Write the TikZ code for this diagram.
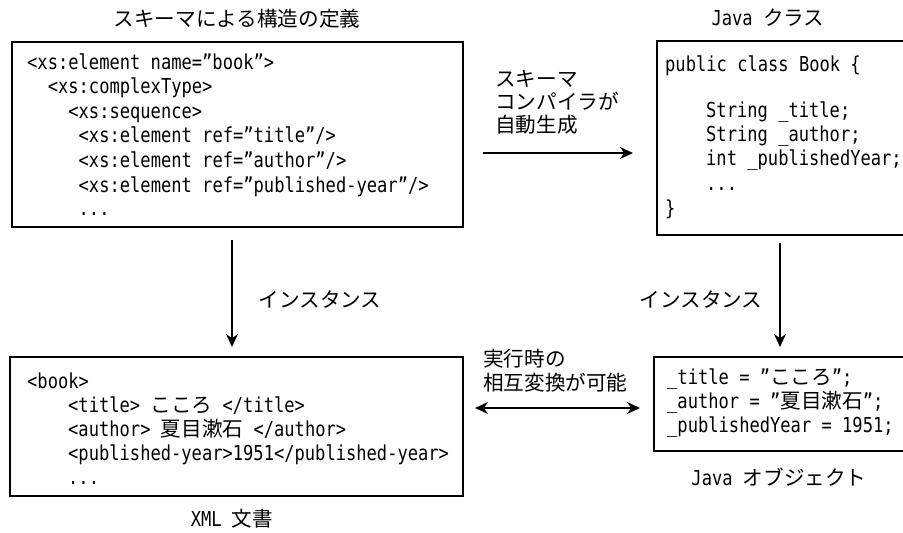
\documentclass[tikz,border=0pt]{standalone}
\usepackage{fontspec}
\setmainfont{DejaVu Sans Mono}[FakeStretch=0.83]
\newfontfamily\jpf{Noto Sans CJK JP}
\newcommand{\J}[1]{{\jpf #1}}
\usetikzlibrary{arrows.meta}
\begin{document}
\begin{tikzpicture}[x=1pt,y=-1pt,
  box/.style={draw, line width=1.6pt, inner sep=0pt, outer sep=0pt, anchor=north west},
  code/.style={anchor=base west, inner sep=0pt, font=\fontsize{20.6}{24.5}\selectfont},
  lbl/.style={inner sep=0pt, font=\fontsize{20.6}{24.5}\selectfont},
  lblw/.style={anchor=base west, inner sep=0pt, font=\fontsize{20.6}{24.5}\selectfont},
  arr/.style={line width=1.6pt, -{Stealth[length=13pt,width=12pt]}},
  darr/.style={line width=1.6pt, {Stealth[length=13pt,width=12pt]}-{Stealth[length=13pt,width=12pt]}}]
\useasboundingbox (0,0) rectangle (903,533);
\clip (0,0) rectangle (903,533);
\fill[white] (0,0) rectangle (903,533);

% boxes
\node[box, minimum width=451pt, minimum height=185pt] (b1) at (12,42) {};
\node[box, minimum width=260pt, minimum height=194pt] (b2) at (657,41) {};
\node[box, minimum width=453pt, minimum height=139pt] (b3) at (10,357) {};
\node[box, minimum width=260pt, minimum height=94pt] (b4) at (654,357) {};

% titles
\node[lbl] (t1) at (237,19) {\J{スキーマによる構造の定義}};
\node[lbl] (t2) at (768,18) {Java \J{クラス}};
\node[lbl] (t3) at (232,519) {XML \J{文書}};
\node[lbl] (t4) at (779,477) {Java \J{オブジェクト}};

% schema code
\node[code] (c11) at (27,69) {<xs:element name=”book”>};
\node[code] (c12) at (47.6,93.6) {<xs:complexType>};
\node[code] (c13) at (68.2,118.2) {<xs:sequence>};
\node[code] (c14) at (78.5,142.8) {<xs:element ref=”title”/>};
\node[code] (c15) at (78.5,167.4) {<xs:element ref=”author”/>};
\node[code] (c16) at (78.5,192) {<xs:element ref=”published-year”/>};
\node[code] (c17) at (78.5,215) {...};

% java class code
\node[code] (c21) at (665,71) {public class Book \{};
\node[code] (c22) at (706,117) {String \_title;};
\node[code] (c23) at (706,141) {String \_author;};
\node[code] (c24) at (706,165) {int \_publishedYear;};
\node[code] (c25) at (706,190) {...};
\node[code] (c26) at (665,215) {\}};

% xml document
\node[code] (c31) at (27,388.5) {<book>};
\node[code] (c32) at (68,412.5) {<title> \J{こころ} </title>};
\node[code] (c33) at (68,436.5) {<author> \J{夏目漱石} </author>};
\node[code] (c34) at (68,460.5) {<published-year>1951</published-year>};
\node[code] (c35) at (68,484.5) {...};

% java object
\node[code] (c41) at (667,384) {\_title = ”\J{こころ}”;};
\node[code] (c42) at (667,408) {\_author = ”\J{夏目漱石}”;};
\node[code] (c43) at (667,432) {\_publishedYear = 1951;};

% arrow labels
\node[lblw] (l1a) at (495,86) {\J{スキーマ}};
\node[lblw] (l1b) at (495,109) {\J{コンパイラが}};
\node[lblw] (l1c) at (495,132) {\J{自動生成}};
\node[lblw] (l2a) at (483,366) {\J{実行時の}};
\node[lblw] (l2b) at (483,390) {\J{相互変換が可能}};
\node[lbl] (l3) at (320,300) {\J{インスタンス}};
\node[lbl] (l4) at (701,300) {\J{インスタンス}};

% connectors
\coordinate (xl) at (232,0);
\coordinate (xr) at (780,0);
\coordinate (yh) at (0,153);
\coordinate (yd) at (0,408);
\draw[arr, shorten <=20pt, shorten >=24pt] (b1.east |- yh) -- (b2.west |- yh);
\draw[arr, shorten <=13pt, shorten >=10pt] (b1.south -| xl) -- (b3.north -| xl);
\draw[arr, shorten <=8pt, shorten >=10pt] (b2.south -| xr) -- (b4.north -| xr);
\draw[darr, shorten <=12pt, shorten >=14pt] (b3.east |- yd) -- (b4.west |- yd);
\end{tikzpicture}
\end{document}
